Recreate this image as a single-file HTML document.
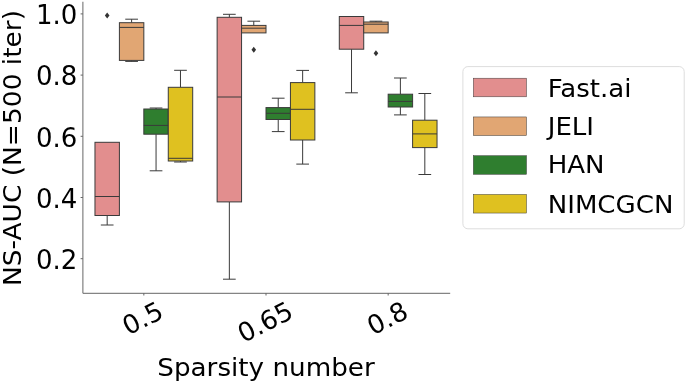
<!DOCTYPE html>
<html lang="en"><head><meta charset="utf-8"><title>NS-AUC boxplot</title>
<style>html,body{margin:0;padding:0;background:#fff;}svg{display:block;}text{font-family:"DejaVu Sans", "Liberation Sans", sans-serif;fill:#000;}</style></head><body>
<svg width="685" height="383" viewBox="0 0 685 383">
<rect width="685" height="383" fill="#fff"/>
<g stroke="#3a3a3a" stroke-width="1.0" fill="none">
<path d="M107.18 215.50V225.00"/>
<path d="M100.83 225.00H113.54"/>
<rect x="94.97" y="142.30" width="24.43" height="73.20" fill="#e28e8e"/>
<path d="M94.97 196.50H119.40"/>
</g>
<g stroke="#3a3a3a" stroke-width="1.0" fill="none">
<path d="M131.62 22.70V19.20"/>
<path d="M131.62 60.40V61.40"/>
<path d="M125.26 19.20H137.97"/>
<path d="M125.26 61.40H137.97"/>
<rect x="119.40" y="22.70" width="24.43" height="37.70" fill="#e1a673"/>
<path d="M119.40 27.40H143.83"/>
</g>
<g stroke="#3a3a3a" stroke-width="1.0" fill="none">
<path d="M156.05 109.00V108.00"/>
<path d="M156.05 134.20V170.80"/>
<path d="M149.70 108.00H162.40"/>
<path d="M149.70 170.80H162.40"/>
<rect x="143.83" y="109.00" width="24.43" height="25.20" fill="#2f7e2f"/>
<path d="M143.83 125.40H168.27"/>
</g>
<g stroke="#3a3a3a" stroke-width="1.0" fill="none">
<path d="M180.48 87.30V70.30"/>
<path d="M180.48 161.00V162.00"/>
<path d="M174.13 70.30H186.84"/>
<path d="M174.13 162.00H186.84"/>
<rect x="168.27" y="87.30" width="24.43" height="73.70" fill="#dfc120"/>
<path d="M168.27 158.30H192.70"/>
</g>
<g stroke="#3a3a3a" stroke-width="1.0" fill="none">
<path d="M229.35 17.30V14.30"/>
<path d="M229.35 201.90V279.20"/>
<path d="M223.00 14.30H235.70"/>
<path d="M223.00 279.20H235.70"/>
<rect x="217.13" y="17.30" width="24.43" height="184.60" fill="#e28e8e"/>
<path d="M217.13 97.00H241.57"/>
</g>
<g stroke="#3a3a3a" stroke-width="1.0" fill="none">
<path d="M253.78 25.40V21.20"/>
<path d="M247.43 21.20H260.14"/>
<rect x="241.57" y="25.40" width="24.43" height="7.50" fill="#e1a673"/>
<path d="M241.57 28.20H266.00"/>
</g>
<g stroke="#3a3a3a" stroke-width="1.0" fill="none">
<path d="M278.22 107.60V98.20"/>
<path d="M278.22 119.50V131.60"/>
<path d="M271.86 98.20H284.57"/>
<path d="M271.86 131.60H284.57"/>
<rect x="266.00" y="107.60" width="24.43" height="11.90" fill="#2f7e2f"/>
<path d="M266.00 113.30H290.43"/>
</g>
<g stroke="#3a3a3a" stroke-width="1.0" fill="none">
<path d="M302.65 82.60V70.40"/>
<path d="M302.65 140.00V164.10"/>
<path d="M296.30 70.40H309.00"/>
<path d="M296.30 164.10H309.00"/>
<rect x="290.43" y="82.60" width="24.43" height="57.40" fill="#dfc120"/>
<path d="M290.43 109.30H314.87"/>
</g>
<g stroke="#3a3a3a" stroke-width="1.0" fill="none">
<path d="M351.52 49.20V92.80"/>
<path d="M345.16 92.80H357.87"/>
<rect x="339.30" y="16.50" width="24.43" height="32.70" fill="#e28e8e"/>
<path d="M339.30 25.40H363.73"/>
</g>
<g stroke="#3a3a3a" stroke-width="1.0" fill="none">
<path d="M375.95 22.00V21.20"/>
<path d="M369.60 21.20H382.30"/>
<rect x="363.73" y="22.00" width="24.43" height="10.90" fill="#e1a673"/>
<path d="M363.73 24.20H388.17"/>
</g>
<g stroke="#3a3a3a" stroke-width="1.0" fill="none">
<path d="M400.38 94.20V78.00"/>
<path d="M400.38 107.00V114.90"/>
<path d="M394.03 78.00H406.74"/>
<path d="M394.03 114.90H406.74"/>
<rect x="388.17" y="94.20" width="24.43" height="12.80" fill="#2f7e2f"/>
<path d="M388.17 101.40H412.60"/>
</g>
<g stroke="#3a3a3a" stroke-width="1.0" fill="none">
<path d="M424.82 120.20V93.50"/>
<path d="M424.82 147.60V174.50"/>
<path d="M418.46 93.50H431.17"/>
<path d="M418.46 174.50H431.17"/>
<rect x="412.60" y="120.20" width="24.43" height="27.40" fill="#dfc120"/>
<path d="M412.60 133.90H437.03"/>
</g>
<path d="M107.18 12.50L109.48 15.50L107.18 18.50L104.88 15.50Z" fill="#333"/>
<path d="M253.78 46.80L256.08 49.80L253.78 52.80L251.48 49.80Z" fill="#333"/>
<path d="M375.95 50.20L378.25 53.20L375.95 56.20L373.65 53.20Z" fill="#333"/>
<path d="M82.9 1.75V293.3H450.2" fill="none" stroke="#666666" stroke-width="1"/>
<path d="M82.9 13.90h-2.3" stroke="#666666" stroke-width="1"/>
<text x="77.40" y="24.20" font-size="26" text-anchor="end">1.0</text>
<path d="M82.9 75.10h-2.3" stroke="#666666" stroke-width="1"/>
<text x="77.40" y="85.40" font-size="26" text-anchor="end">0.8</text>
<path d="M82.9 136.30h-2.3" stroke="#666666" stroke-width="1"/>
<text x="77.40" y="146.60" font-size="26" text-anchor="end">0.6</text>
<path d="M82.9 197.50h-2.3" stroke="#666666" stroke-width="1"/>
<text x="77.40" y="207.80" font-size="26" text-anchor="end">0.4</text>
<path d="M82.9 258.70h-2.3" stroke="#666666" stroke-width="1"/>
<text x="77.40" y="269.00" font-size="26" text-anchor="end">0.2</text>
<path d="M143.83 293.2v2.3" stroke="#666666" stroke-width="1"/>
<text font-size="26.1" text-anchor="middle" transform="translate(142.33 317.7) rotate(-27)" y="9.6">0.5</text>
<path d="M266.00 293.2v2.3" stroke="#666666" stroke-width="1"/>
<text font-size="26.1" text-anchor="middle" transform="translate(264.90 321.5) rotate(-27)" y="9.6">0.65</text>
<path d="M388.17 293.2v2.3" stroke="#666666" stroke-width="1"/>
<text font-size="26.1" text-anchor="middle" transform="translate(387.17 317.8) rotate(-27)" y="9.6">0.8</text>
<text font-size="25.5" text-anchor="middle" transform="translate(266.0 375.7) scale(1.028 1)">Sparsity number</text>
<text font-size="25.1" text-anchor="middle" transform="translate(20.9 148.0) rotate(-90) scale(1.0534 1)">NS-AUC (N=500 iter)</text>
<rect x="462.9" y="66.6" width="221.3" height="162.2" rx="5" ry="5" fill="#fff" stroke="#dddddd" stroke-width="1"/>
<rect x="473.3" y="78.20" width="53.2" height="18.6" fill="#e28e8e" stroke="#3a3a3a" stroke-width="0.5"/>
<text font-size="25.1" transform="translate(547.7 97.00) scale(1.0388 1)">Fast.ai</text>
<rect x="473.3" y="116.95" width="53.2" height="18.6" fill="#e1a673" stroke="#3a3a3a" stroke-width="0.5"/>
<text font-size="25.1" transform="translate(547.7 134.55) scale(1.0388 1)">JELI</text>
<rect x="473.3" y="155.70" width="53.2" height="18.6" fill="#2f7e2f" stroke="#3a3a3a" stroke-width="0.5"/>
<text font-size="25.1" transform="translate(547.7 173.30) scale(1.0388 1)">HAN</text>
<rect x="473.3" y="194.45" width="53.2" height="18.6" fill="#dfc120" stroke="#3a3a3a" stroke-width="0.5"/>
<text font-size="25.1" transform="translate(547.7 212.55) scale(1.0388 1)">NIMCGCN</text>
</svg></body></html>
